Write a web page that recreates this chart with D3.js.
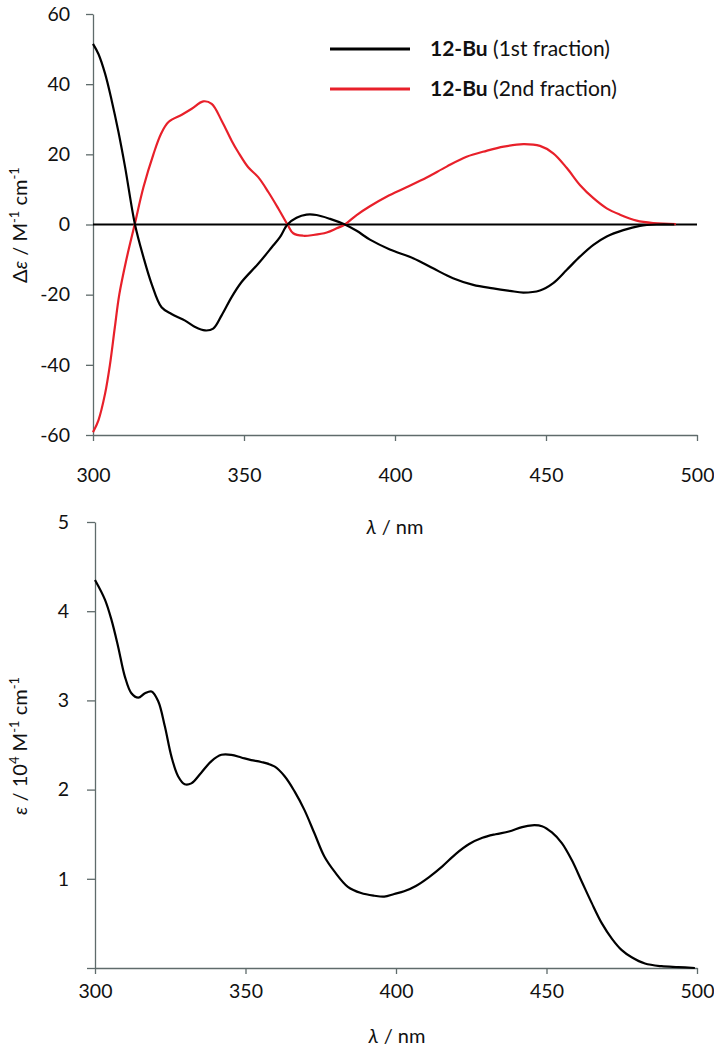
<!DOCTYPE html>
<html>
<head>
<meta charset="utf-8">
<script src="https://cdnjs.cloudflare.com/ajax/libs/d3/7.8.5/d3.min.js"></script>
<style>
  html, body { margin: 0; padding: 0; background: #fff; }
  svg { display: block; }
  text { font-family: Lato, "Open Sans", sans-serif; fill: #111; }
</style>
</head>
<body>
<svg id="chart" width="714" height="1050"></svg>
<script>
// ---------- DATA ----------
// Top panel: CD spectra, [wavelength nm, Δε]
const cdWavelength1 = [300,301.8,304,306.2,308.4,310.6,313.9,316.7,319.4,322.7,326,330.5,333.8,337.1,339.8,342.6,345.9,349.2,354.7,359.2,361.9,364.4,367.4,370.7,374,378.5,383.4,387.3,391.7,398.3,406,412.6,419.2,425.9,432.5,438,442.5,448,452.4,456.9,461.3,465.7,470.1,475.6,481.1,486.6,492.5];
const cdFraction1 = [51.5,48.6,43,35.3,26.5,16.5,0,-9.3,-16.9,-23.6,-25.5,-27.4,-29.2,-30.2,-29.7,-25.9,-20.7,-16.4,-11.2,-6.5,-3.6,0,1.9,2.8,2.7,1.6,0,-1.8,-4.3,-7.1,-9.6,-12.5,-15.3,-17.2,-18.2,-18.9,-19.4,-18.8,-16.7,-12.9,-9.1,-5.8,-3.4,-1.6,-0.4,0,0];
const cdWavelength2 = [300,301.8,304,305.6,307.2,308.7,311,313.8,316.7,320,322.5,325,329.4,332.7,336.5,339.3,342.6,345.9,348.1,351.4,354.7,358.1,361.4,364.4,366.3,369.6,372.9,377.4,380.7,383.4,387.3,391.7,397.2,403.8,410.5,417.1,423.7,430.3,436,442.5,448,452.4,456.9,461.3,465.7,470.1,474.5,480,485.6,493];
const cdFraction2 = [-59.2,-55.8,-48.2,-40,-29.5,-20,-10.2,0,10.6,20,25.8,29.2,31.3,33,35.1,34.4,29.6,23.9,20.6,16.3,13.5,9.2,4.5,0,-2.5,-3.2,-3.0,-2.3,-1.1,0,2.7,5.2,7.9,10.6,13.4,16.5,19.3,21,22.2,22.9,22.4,20.3,16.1,11.2,7.5,4.6,2.8,1.1,0.4,0.1];

// Bottom panel: absorption, [wavelength nm, ε / 10^4]
const absWavelength = [300,303.3,305.5,307.7,309.9,312.1,314.4,316.6,318.8,321,323.2,325.4,327.6,329.8,332,335.3,338.7,342,345.3,348.6,351.9,355.2,359.6,363,366.3,369.6,372.9,376.2,379.6,384,388.4,392.8,396.1,399.4,402.7,406.6,411,415.4,419.9,424.3,428.7,433.1,437.5,441.9,445.2,448.5,451.8,455.1,458.4,461.7,465,468.4,471.7,475,478.3,482.7,488.2,493.8,499.3];
const absEpsilon = [4.35,4.13,3.9,3.6,3.27,3.08,3.03,3.08,3.1,2.99,2.71,2.37,2.15,2.06,2.07,2.19,2.32,2.39,2.39,2.36,2.33,2.31,2.26,2.15,1.98,1.77,1.51,1.25,1.08,0.91,0.84,0.81,0.8,0.83,0.86,0.92,1.02,1.14,1.28,1.39,1.46,1.5,1.53,1.58,1.6,1.59,1.52,1.4,1.21,0.97,0.73,0.5,0.33,0.2,0.12,0.05,0.02,0.01,0];

const xTicks = [300,350,400,450,500];
const cdTicks = [-60,-40,-20,0,20,40,60];
const absTicks = [1,2,3,4,5];
const legendLabels = [["12-Bu"," (1st fraction)"],["12-Bu"," (2nd fraction)"]];
const seriesColors = ["#000000","#e8202a"];

// ---------- DRAW ----------
const svg = d3.select("#chart");
const axisColor = "#5f6b6b";
const tickFont = 19.5;

function styleAxis(g) {
  g.selectAll(".domain").attr("stroke", axisColor).attr("stroke-width", 1.3);
  g.selectAll(".tick line").attr("stroke", axisColor).attr("stroke-width", 1.3);
  g.selectAll(".tick text").attr("font-family", "Lato, 'Open Sans', sans-serif").attr("font-size", tickFont).attr("fill", "#111");
}

// ===== TOP PANEL =====
const xTop = d3.scaleLinear().domain([300,500]).range([93,697]);
const yTop = d3.scaleLinear().domain([-60,60]).range([435,14]);

const gTopY = svg.append("g").attr("transform", `translate(${xTop(300)},0)`)
  .call(d3.axisLeft(yTop).tickValues(cdTicks).tickSize(7).tickSizeOuter(0).tickPadding(16).tickFormat(d => d < 0 ? "-" + Math.abs(d) : String(d)));
styleAxis(gTopY);

const gTopX = svg.append("g").attr("transform", `translate(0,${yTop(-60)})`)
  .call(d3.axisBottom(xTop).tickValues(xTicks).tickSize(6).tickSizeOuter(0).tickPadding(27).tickFormat(d3.format("d")));
styleAxis(gTopX);

// zero line
svg.append("line")
  .attr("x1", xTop(300)).attr("x2", xTop(500))
  .attr("y1", yTop(0)).attr("y2", yTop(0))
  .attr("stroke", "#000").attr("stroke-width", 2.2);

const lineTop = d3.line().x(d => xTop(d[0])).y(d => yTop(d[1])).curve(d3.curveCatmullRom.alpha(0.5));
svg.append("path").datum(d3.zip(cdWavelength2, cdFraction2))
  .attr("d", lineTop).attr("fill", "none").attr("stroke", seriesColors[1]).attr("stroke-width", 2.2);
svg.append("path").datum(d3.zip(cdWavelength1, cdFraction1))
  .attr("d", lineTop).attr("fill", "none").attr("stroke", seriesColors[0]).attr("stroke-width", 2.2);

// legend
legendLabels.forEach((lab, i) => {
  const y = 49 + i * 40;
  svg.append("line").attr("x1", 330).attr("x2", 410).attr("y1", y).attr("y2", y)
    .attr("stroke", seriesColors[i]).attr("stroke-width", 3.2);
  const t = svg.append("text").attr("x", 430).attr("y", y + 7).attr("font-size", 21);
  t.append("tspan").attr("font-weight", "bold").text(lab[0]);
  t.append("tspan").text(lab[1]);
});

// axis titles top
const xt1 = svg.append("text").attr("x", 395).attr("y", 534).attr("text-anchor", "middle").attr("font-size", 20);
xt1.append("tspan").attr("font-style", "italic").text("λ");
xt1.append("tspan").text(" / nm");

const yt1 = svg.append("text").attr("transform", "translate(27,225) rotate(-90)").attr("text-anchor", "middle").attr("font-size", 20);
yt1.append("tspan").text("Δ");
yt1.append("tspan").attr("font-style", "italic").text("ε");
yt1.append("tspan").text(" / M");
yt1.append("tspan").attr("font-size", 13).attr("dy", -8).text("-1");
yt1.append("tspan").attr("dy", 8).text(" cm");
yt1.append("tspan").attr("font-size", 13).attr("dy", -8).text("-1");

// ===== BOTTOM PANEL =====
const xBot = d3.scaleLinear().domain([300,500]).range([95,697]);
const yBot = d3.scaleLinear().domain([0,5]).range([968,522]);

const gBotY = svg.append("g").attr("transform", `translate(${xBot(300)},0)`)
  .call(d3.axisLeft(yBot).tickValues([0].concat(absTicks)).tickSize(8).tickSizeOuter(0).tickPadding(18).tickFormat(d3.format("d")));
styleAxis(gBotY);
gBotY.selectAll(".tick").filter(d => d === 0).select("text").remove();

const gBotX = svg.append("g").attr("transform", `translate(0,${yBot(0)})`)
  .call(d3.axisBottom(xBot).tickValues(xTicks).tickSize(6).tickSizeOuter(0).tickPadding(10).tickFormat(d3.format("d")));
styleAxis(gBotX);

const lineBot = d3.line().x(d => xBot(d[0])).y(d => yBot(d[1])).curve(d3.curveCatmullRom.alpha(0.5));
svg.append("path").datum(d3.zip(absWavelength, absEpsilon))
  .attr("d", lineBot).attr("fill", "none").attr("stroke", "#000").attr("stroke-width", 2.2);

const xt2 = svg.append("text").attr("x", 397).attr("y", 1043).attr("text-anchor", "middle").attr("font-size", 20);
xt2.append("tspan").attr("font-style", "italic").text("λ");
xt2.append("tspan").text(" / nm");

const yt2 = svg.append("text").attr("transform", "translate(27,746) rotate(-90)").attr("text-anchor", "middle").attr("font-size", 20);
yt2.append("tspan").attr("font-style", "italic").text("ε");
yt2.append("tspan").text(" / 10");
yt2.append("tspan").attr("font-size", 13).attr("dy", -8).text("4");
yt2.append("tspan").attr("dy", 8).text(" M");
yt2.append("tspan").attr("font-size", 13).attr("dy", -8).text("-1");
yt2.append("tspan").attr("dy", 8).text(" cm");
yt2.append("tspan").attr("font-size", 13).attr("dy", -8).text("-1");
</script>
</body>
</html>
